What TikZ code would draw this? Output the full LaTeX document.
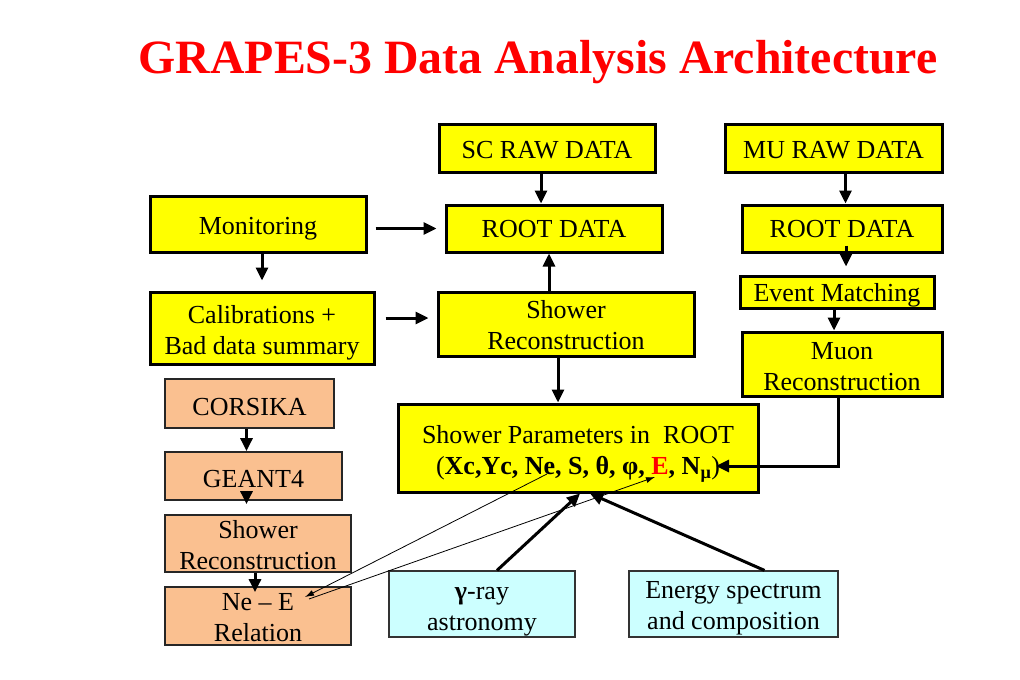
\documentclass[tikz,border=0pt]{standalone}
\usepackage{fontspec}
\setmainfont{Liberation Serif}
\usetikzlibrary{arrows.meta}
\definecolor{boxyellow}{HTML}{FFFF00}
\definecolor{boxorange}{HTML}{FAC090}
\definecolor{boxcyan}{HTML}{CCFFFF}
\newcommand{\tx}[2][5pt]{\raisebox{-#1}[0.8\height][0.8\depth]{\begin{tabular}{@{}c@{}}#2\end{tabular}}}
\begin{document}
\begin{tikzpicture}[x=1pt,y=-1pt,
  base/.style={draw, inner sep=0pt, font=\fontsize{26}{31}\selectfont, text=black},
  ybox/.style={base, fill=boxyellow, line width=3pt},
  obox/.style={base, fill=boxorange, line width=1.8pt, draw=black!85},
  cbox/.style={base, fill=boxcyan, line width=1.2pt, draw=black!80},
  arr/.style={line width=3pt, -{Triangle[length=13pt,width=12pt]}},
  thinarr/.style={line width=0.8pt, -{Latex[length=9pt,width=6pt]}}]
\useasboundingbox (0,0) rectangle (1020,680);
\fill[white] (0,0) rectangle (1020,680);

\node[font=\fontsize{47.8}{57}\selectfont\bfseries, text=red] (title) at (538,62) {GRAPES-3 Data Analysis Architecture};

% yellow boxes
\node[ybox, minimum width=216pt, minimum height=48pt] (scraw) at (547,148) {\tx[6pt]{SC RAW DATA}};
\node[ybox, minimum width=216pt, minimum height=47pt] (root1) at (554,228.5) {\tx[4pt]{ROOT DATA}};
\node[ybox, minimum width=216pt, minimum height=56pt] (mon) at (258,224) {\tx[6pt]{Monitoring}};
\node[ybox, minimum width=224pt, minimum height=72pt] (calib) at (262,328) {\tx[6pt]{Calibrations +\\Bad data summary}};
\node[ybox, minimum width=256pt, minimum height=64pt] (shrec) at (566,324) {\tx[5pt]{Shower\\Reconstruction}};
\node[ybox, minimum width=360pt, minimum height=88pt] (params) at (578,448)
  {\tx[6pt]{Shower Parameters in\ \ ROOT\\(\textbf{Xc,Yc, Ne, S, θ, φ, \textcolor{red}{E}, N\textsubscript{μ}})}};
\node[ybox, minimum width=217pt, minimum height=48pt] (muraw) at (833.5,148) {\tx[6pt]{MU RAW DATA}};
\node[ybox, minimum width=200pt, minimum height=47pt] (rootmu) at (842,228.5) {\tx[4pt]{ROOT DATA}};
\node[ybox, minimum width=194pt, minimum height=32pt] (event) at (837,292) {\tx[5pt]{Event Matching}};
\node[ybox, minimum width=200pt, minimum height=64pt] (muon) at (842,364) {\tx[6pt]{Muon\\Reconstruction}};

% orange boxes
\node[obox, minimum width=169pt, minimum height=49pt] (cors) at (249.5,403.5) {\tx[7pt]{CORSIKA}};
\node[obox, minimum width=177pt, minimum height=48pt] (geant) at (253.5,476) {\tx[7pt]{GEANT4}};
\node[obox, minimum width=186pt, minimum height=57pt] (shrec2) at (258,543.5) {\tx[6pt]{Shower\\Reconstruction}};
\node[obox, minimum width=186pt, minimum height=58pt] (nee) at (258,616) {\tx[5pt]{Ne – E\\Relation}};

% cyan boxes
\node[cbox, minimum width=186pt, minimum height=66pt] (gamma) at (482,604) {\tx[6pt]{\textbf{γ}-ray\\astronomy}};
\node[cbox, minimum width=209pt, minimum height=66pt] (energy) at (733.5,604) {\tx[5pt]{Energy spectrum\\and composition}};

% helper coordinates
\coordinate (numu) at (716,466);
\coordinate (ne) at (547,474);
\coordinate (ee) at (655,477);
\coordinate (neetip) at (305,597);
\coordinate (neefrom) at (309,599);

% arrows
\draw[arr, shorten <=8pt, shorten >=8pt] (root1.west -| mon.east) -- (root1.west);
\draw[arr, shorten >=10pt] (mon.south -| calib.north) -- (calib.north);
\draw[arr, shorten <=10pt, shorten >=8pt] ([yshift=10pt]calib.east) -- ([yshift=10pt]calib.east -| shrec.west);
\draw[arr] ([xshift=-6pt]scraw.south) -- ([xshift=-6pt]scraw.south |- root1.north);
\draw[arr] ([xshift=-17pt]shrec.north) -- ([xshift=-17pt]shrec.north |- root1.south);
\draw[arr] ([xshift=-8pt]shrec.south) -- ([xshift=-8pt]shrec.south |- params.north);
\draw[arr] ([xshift=12pt]muraw.south) -- ([xshift=12pt]muraw.south |- rootmu.north);
\draw[arr] ([xshift=4pt,yshift=8pt]rootmu.south) -- ([xshift=4pt,yshift=8pt]rootmu.south |- event.north);
\draw[arr] ([xshift=-3pt]event.south) -- ([xshift=-3pt]event.south |- muon.north);
\draw[arr] ([xshift=-4pt]muon.south) |- (numu);
\draw[arr] ([xshift=-3pt]cors.south) -- ([xshift=-3pt]cors.south |- geant.north);
\draw[arr] ([xshift=-7pt,yshift=10pt]geant.south) -- ([xshift=-7pt,yshift=10pt]geant.south |- shrec2.north);
\draw[arr, shorten >=-6pt] ([xshift=-3pt]shrec2.south) -- ([xshift=-3pt]shrec2.south |- nee.north);
\draw[arr] ([xshift=15pt]gamma.north) -- ([xshift=2pt]params.south);
\draw[arr] ([xshift=31pt]energy.north) -- ([xshift=12pt]params.south);
\draw[thinarr] (ne) -- (neetip);
\draw[thinarr] (neefrom) -- (ee);
\end{tikzpicture}
\end{document}
